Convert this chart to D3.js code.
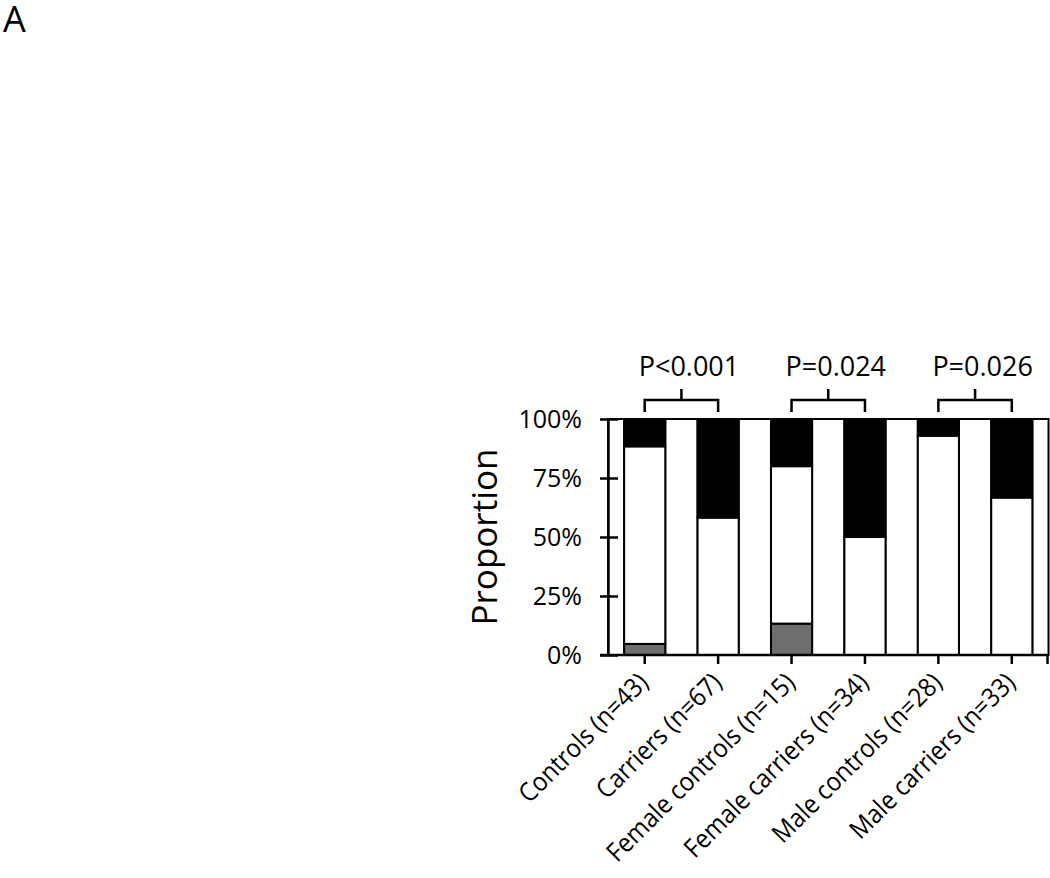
<!DOCTYPE html>
<html>
<head>
<meta charset="utf-8">
<script src="https://cdn.jsdelivr.net/npm/d3@7"></script>
<style>
  html, body { margin: 0; padding: 0; background: #fff; }
  svg { display: block; }
  text { font-family: "Open Sans", sans-serif; fill: #000; }
</style>
</head>
<body>
<svg id="chart" width="1050" height="878"></svg>
<script>
// ---- data (percent of each group) ----
const categories = ["Controls (n=43)", "Carriers (n=67)", "Female controls (n=15)",
                    "Female carriers (n=34)", "Male controls (n=28)", "Male carriers (n=33)"];
const seriesGray  = [4.7, 0, 13.3, 0, 0, 0];
const seriesWhite = [83.7, 58.2, 66.7, 50.0, 92.9, 66.7];
const seriesBlack = [11.6, 41.8, 20.0, 50.0, 7.1, 33.3];
const yTicks = [0, 25, 50, 75, 100];
const comparisons = [
  { a: 0, b: 1, label: "P<0.001" },
  { a: 2, b: 3, label: "P=0.024" },
  { a: 4, b: 5, label: "P=0.026" }
];

const svg = d3.select("#chart");

const x = d3.scaleBand().domain(categories).range([608, 1048.5])
  .paddingInner(0.44).paddingOuter(0.22);
const y = d3.scaleLinear().domain([0, 100]).range([655, 419]);

const series = [
  { name: "gray",  values: seriesGray,  fill: "#6e6e6e" },
  { name: "white", values: seriesWhite, fill: "#ffffff" },
  { name: "black", values: seriesBlack, fill: "#000000" }
];

// panel letter
svg.append("text").attr("x", 3).attr("y", 32).attr("font-size", 36).text("A");

// white gap boxes between bars
const bw = x.bandwidth();
const edges = [x.range()[0]];
categories.forEach(c => { edges.push(x(c)); edges.push(x(c) + bw); });
edges.push(x.range()[1]);
const gaps = [];
for (let i = 0; i < edges.length; i += 2) gaps.push([edges[i], edges[i + 1]]);
svg.append("g").selectAll("rect").data(gaps).join("rect")
  .attr("x", d => d[0]).attr("width", d => d[1] - d[0])
  .attr("y", y(100)).attr("height", y(0) - y(100))
  .attr("fill", "#fff").attr("stroke", "#000").attr("stroke-width", 2);

// stacked bars
const bars = svg.append("g");
categories.forEach((c, i) => {
  let base = 0;
  series.forEach(s => {
    const v = s.values[i];
    if (v > 0) {
      bars.append("rect")
        .attr("x", x(c)).attr("width", bw)
        .attr("y", y(base + v)).attr("height", y(base) - y(base + v))
        .attr("fill", s.fill).attr("stroke", "#000").attr("stroke-width", 2);
    }
    base += v;
  });
});

// y axis
const yAxis = svg.append("g").attr("transform", "translate(608,0)")
  .call(d3.axisLeft(y).tickValues(yTicks).tickFormat(d => d + "%")
    .tickSizeInner(8).tickSizeOuter(0).tickPadding(18));
yAxis.select(".domain").attr("stroke", "#000").attr("stroke-width", 2.5);
yAxis.selectAll(".tick line").attr("x1", 10).attr("x2", -8)
  .attr("stroke", "#000").attr("stroke-width", 2.5);
yAxis.selectAll(".tick text").attr("font-size", 25)
  .attr("font-family", "Open Sans, sans-serif").attr("fill", "#000");

// x axis
const xAxis = svg.append("g").attr("transform", "translate(0,655)")
  .call(d3.axisBottom(x).tickSizeInner(9).tickSizeOuter(0).tickFormat(""));
xAxis.select(".domain").remove();
xAxis.selectAll(".tick line").attr("stroke", "#000").attr("stroke-width", 2.5);
svg.append("line").attr("x1", 600).attr("x2", 1049).attr("y1", 655).attr("y2", 655)
  .attr("stroke", "#000").attr("stroke-width", 2.5);
svg.append("line").attr("x1", 1047.5).attr("x2", 1047.5).attr("y1", 655).attr("y2", 664)
  .attr("stroke", "#000").attr("stroke-width", 2.5);

// rotated category labels
svg.append("g").selectAll("text").data(categories).join("text")
  .attr("transform", d => `translate(${x(d) + bw / 2 + 5},${684}) rotate(-45) scale(0.92,1)`)
  .attr("text-anchor", "end").attr("font-size", 26).text(d => d);

// y axis title
svg.append("text")
  .attr("transform", `translate(497,${(y(0) + y(100)) / 2}) rotate(-90)`)
  .attr("text-anchor", "middle").attr("font-size", 35).text("Proportion");

// comparison brackets
const bg = svg.append("g");
comparisons.forEach(cm => {
  const xa = x(categories[cm.a]) + bw / 2;
  const xb = x(categories[cm.b]) + bw / 2;
  const xm = (xa + xb) / 2;
  bg.append("path")
    .attr("d", `M${xa},412V400H${xb}V412M${xm},400V389`)
    .attr("fill", "none").attr("stroke", "#000").attr("stroke-width", 2.5);
  bg.append("text").attr("x", xa - 6).attr("y", 376)
    .attr("font-size", 27).text(cm.label);
});
</script>
</body>
</html>
